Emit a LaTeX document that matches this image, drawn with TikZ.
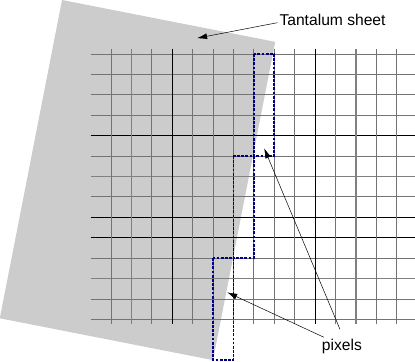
\documentclass[tikz,border=0pt]{standalone}
\usepackage{fontspec}
\setmainfont{Liberation Sans}
\usetikzlibrary{arrows.meta}
\definecolor{sheetgray}{RGB}{204,204,204}
\definecolor{pixblue}{RGB}{0,0,128}

\begin{document}
\begin{tikzpicture}[x=0.72cm,y=0.72cm,
  gridline/.style={line width=0.8pt,black!55},
  darkline/.style={line width=0.8pt,black},
  wideline/.style={line width=1.6pt,black!50},
  pixbox/.style={line width=1.8pt,pixblue,dash pattern=on 2.8pt off 1.4pt},
  pointer/.style={line width=0.5pt,-{Latex[length=10pt,width=6pt]}},
  notetext/.style={inner sep=0pt,font=\fontsize{15.7}{19}\selectfont}]
  \useasboundingbox (-5.44,-15.05) rectangle (14.9,2.65);
  % the tilted sheet
  \fill[sheetgray] (-2.4,2.65) -- (8.05,0.6) -- (5.0,-15.0) -- (-5.45,-12.95) -- cycle;
  % detector grid
  \foreach \j/\s in {0/gridline,1/gridline,2/gridline,3/gridline,4/darkline,5/gridline,6/wideline,7/gridline,8/darkline,9/darkline,10/gridline,11/wideline,12/gridline,13/gridline} {
    \draw[\s] (-1,-\j) -- (14.9,-\j);
  }
  \foreach \k/\s in {0/gridline,1/wideline,2/gridline,3/darkline,4/gridline,5/gridline,6/gridline,7/gridline,8/gridline,9/gridline,10/darkline,11/gridline,12/wideline,13/gridline,14/gridline} {
    \draw[\s] (\k,0.25) -- (\k,-13.25);
  }
  % pixels on the edge
  \foreach \x/\y in {7/0,6/-5,5/-10} {
    \draw[pixbox] (\x,\y) rectangle (\x+1,\y-5);
  }
  \node[notetext,anchor=base west] (tant) at (8.25,1.41) {Tantalum sheet};
  \node[notetext,anchor=base west] (pix) at (10.33,-14.54) {pixels};
  \coordinate (sheet) at (4.22,0.78);
  \coordinate (pxa) at (7.51,-4.62);
  \coordinate (pxb) at (5.70,-11.68);
  \draw[pointer] ([xshift=-2pt,yshift=-3pt]tant.west) -- (sheet);
  \draw[pointer] ([xshift=-2pt,yshift=10pt]pix.north) -- (pxa);
  \draw[pointer] ([xshift=2pt,yshift=2pt]pix.north west) -- (pxb);
\end{tikzpicture}
\end{document}
